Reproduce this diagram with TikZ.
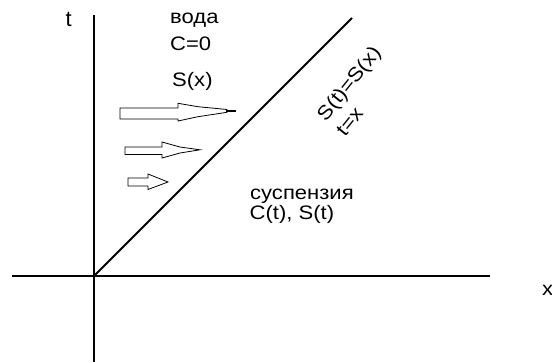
\documentclass[tikz,border=0pt]{standalone}
\usepackage{fontspec}
\setmainfont{Liberation Sans}
\newcommand\wide[1]{\scalebox{1.13}[1]{#1}}
\begin{document}
\begin{tikzpicture}[x=1pt,y=-1pt,
  axisline/.style={line width=2.2pt},
  diagline/.style={line width=2pt},
  flowarrow/.style={draw=black,fill=white,line width=0.8pt,line join=miter},
  lbl/.style={inner sep=0pt,anchor=base west,font=\fontsize{19.5}{23}\selectfont}]
\useasboundingbox (0,0) rectangle (552,362);
% axes
\coordinate (vtop) at (94,15);
\coordinate (vbot) at (94,362);
\coordinate (hl) at (12,276);
\coordinate (hr) at (490,276);
\coordinate (o) at (94,276);
\coordinate (dtop) at (352,18);
\draw[axisline] (vtop) -- (vbot);
\draw[axisline] (hl) -- (hr);
\draw[diagline] (o) -- (dtop);
% axis labels
\node[lbl,font=\fontsize{22}{24}\selectfont] (tlab) at (65.5,26) {t};
\node[lbl] (xlab) at (542,295) {\wide{x}};
% labels
\node[lbl] (voda) at (170,23.5) {\wide{вода}};
\node[lbl] (c0) at (170,50.7) {\wide{C=0}};
\node[lbl] (sx) at (172,86.5) {\wide{S(x)}};
\node[lbl] (susp) at (250,199) {\wide{суспензия}};
\node[lbl] (cts) at (249.5,219.5) {\wide{C(t), S(t)}};
\node[inner sep=0pt,rotate=51,align=left,font=\fontsize{19.5}{25}\selectfont] (front) at (358,91) {\wide{S(t)=S(x)}\\\wide{t=x}};
% arrows
\draw[flowarrow] (120,108) -- (178,108) -- (178,103.3) -- (198,106.7) -- (227,109.5) -- (227,112.3) -- (198,116.7) -- (178,121) -- (178,119) -- (120,119) -- cycle;
\coordinate (tipa) at (226,111.2);
\coordinate (tipb) at (236,111.2);
\draw[line width=2.3pt] (tipa) -- (tipb);
\draw[flowarrow] (125,147) -- (162,147) -- (162,142) -- (180,147) -- (200,149.8) -- (180,153) -- (162,158) -- (162,154.5) -- (125,154.5) -- cycle;
\draw[flowarrow] (128,178) -- (148,178) -- (148,174) -- (168,182) -- (148,189.5) -- (148,186) -- (128,186) -- cycle;
\end{tikzpicture}
\end{document}
